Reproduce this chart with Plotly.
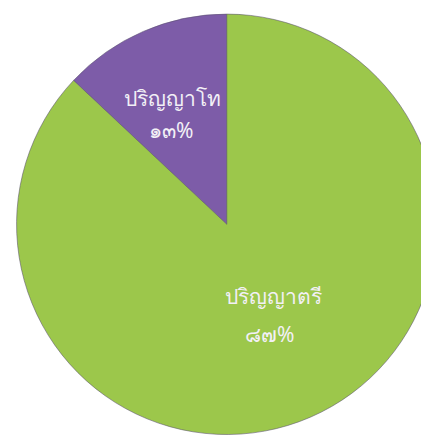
import plotly.graph_objects as go

labels = ["ปริญญาโท", "ปริญญาตรี"]
values = [13, 87]
pct_text = ["๑๓%", "๘๗%"]
colors = ["#7D5CA8", "#9CC74B"]

# label placement (paper coords): name line and percent line for each slice
name_pos = [(0.383, 0.793), (0.620, 0.340)]
pct_pos = [(0.380, 0.720), (0.609, 0.254)]

fig = go.Figure(
    go.Pie(
        labels=labels,
        values=values,
        textinfo="none",
        sort=False,
        direction="clockwise",
        rotation=-46.8,
        marker=dict(colors=colors, line=dict(color="rgba(90,80,110,0.55)", width=1)),
        hoverinfo="label+percent",
        domain=dict(x=[0.02, 1.0], y=[0.012, 0.998]),
        showlegend=False,
    )
)

font = dict(color="#F2F0F6", size=21, family="Noto Sans, Tahoma, sans-serif")
for lab, pct, (nx, ny), (px, py) in zip(labels, pct_text, name_pos, pct_pos):
    fig.add_annotation(x=nx, y=ny, xref="paper", yref="paper", text=lab,
                       showarrow=False, font=font, xanchor="center", yanchor="middle")
    fig.add_annotation(x=px, y=py, xref="paper", yref="paper", text=pct,
                       showarrow=False, font=font, xanchor="center", yanchor="middle")

fig.update_layout(
    width=429,
    height=437,
    margin=dict(l=0, r=0, t=0, b=0),
    paper_bgcolor="white",
    plot_bgcolor="white",
    showlegend=False,
)

fig.write_html("out.html")
